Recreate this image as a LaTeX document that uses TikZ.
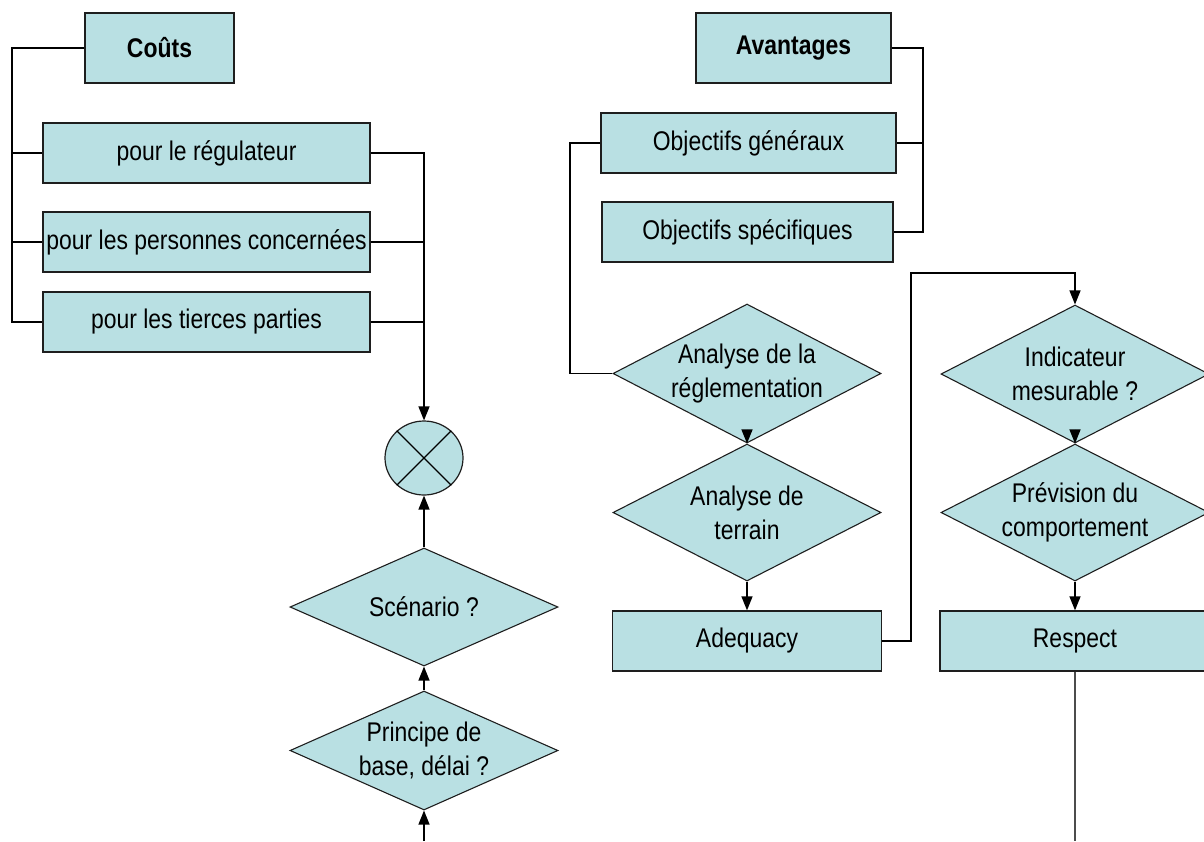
\documentclass[tikz,border=0pt]{standalone}
\usepackage{fontspec}
\setmainfont{Liberation Sans}[FakeStretch=0.85]
\usetikzlibrary{shapes.geometric,arrows.meta}
\definecolor{boxfill}{RGB}{185,224,227}
\definecolor{edge}{RGB}{30,30,30}
\begin{document}
\begin{tikzpicture}[x=1pt,y=-1pt,
  every node/.style={font=\fontsize{27pt}{34pt}\selectfont},
  box/.style={draw=edge,line width=1.3pt,fill=boxfill,rectangle,minimum height=60pt,inner sep=0pt,align=center},
  decision/.style={draw=edge,line width=1.1pt,fill=boxfill,diamond,aspect=1.94,inner sep=-10pt,align=center,minimum width=268pt},
  wire/.style={line width=1.3pt,draw=black},
  arr/.style={wire,-{Triangle[width=11pt,length=14pt]}}]
\useasboundingbox (0,0) rectangle (1204,841);

% ---- costs ----
\node[box,minimum width=149pt,minimum height=70pt] (couts) at (159.5,48) {\textbf{Coûts}};
\node[box,minimum width=327pt] (reg) at (206.5,153) {pour le régulateur};
\node[box,minimum width=327pt] (pers) at (206.5,242) {pour les personnes concernées};
\node[box,minimum width=327pt] (tiers) at (206.5,322) {pour les tierces parties};
\node[ellipse,draw=edge,fill=boxfill,line width=1.2pt,minimum width=78pt,minimum height=74pt,inner sep=0pt] (mix) at (424,458) {};
\draw[line width=1.1pt] (mix.45) -- (mix.225) (mix.135) -- (mix.315);
\node[decision,minimum height=118pt] (scen) at (424,607) {Scénario ?};
\node[decision,minimum height=119pt] (princ) at (424,750.5) {Principe de\\base, délai ?};
\coordinate (feed) at (424,841);
\coordinate (ltrunk) at (12,0);

\draw[wire] (couts.west) -| (ltrunk |- tiers.west) -- (tiers.west);
\draw[wire] (reg.west) -- (ltrunk |- reg.west);
\draw[wire] (pers.west) -- (ltrunk |- pers.west);
\draw[arr] (reg.east) -| (mix.north);
\draw[wire] (pers.east) -- (mix.north |- pers.east);
\draw[wire] (tiers.east) -- (mix.north |- tiers.east);
\draw[arr] (scen.north) -- (mix.south);
\draw[arr] (princ.north) -- (scen.south);
\draw[arr] (feed) -- (princ.south);

% ---- benefits ----
\node[box,minimum width=195pt,minimum height=70pt] (avant) at (793.5,48) {\textbf{Avantages}};
\node[box,minimum width=295pt] (gen) at (748.5,143) {Objectifs généraux};
\node[box,minimum width=291pt] (spec) at (747.5,232) {Objectifs spécifiques};
\coordinate (rtrunk) at (923,0);
\draw[wire] (avant.east) -| (rtrunk |- spec.east) -- (spec.east);
\draw[wire] (gen.east) -- (rtrunk |- gen.east);

\node[decision,minimum height=139pt] (regl) at (747,373.5) {Analyse de la\\réglementation};
\node[decision,minimum height=137pt] (terr) at (747,512.5) {Analyse de\\terrain};
\node[box,minimum width=269pt] (adeq) at (747,641) {Adequacy};
\coordinate (lloop) at (570,0);
\draw[wire] (gen.west) -| (lloop |- regl.west) -- (regl.west);
\draw[arr] ([yshift=14pt]regl.south) -- (terr.north);
\draw[arr] (terr.south) -- (adeq.north);

\node[decision,minimum height=138pt] (indic) at (1075,374) {Indicateur\\mesurable ?};
\node[decision,minimum height=137pt] (prev) at (1075,512.5) {Prévision du\\comportement};
\node[box,minimum width=270pt] (resp) at (1075,641) {Respect};
\coordinate (up) at (911,273);
\draw[arr] (adeq.east) -| (up) -| (indic.north);
\draw[arr] ([yshift=14pt]indic.south) -- (prev.north);
\draw[arr] (prev.south) -- (resp.north);
\coordinate (out) at (1075,841);
\draw[wire,draw=black!70] (resp.south) -- (out);
\end{tikzpicture}
\end{document}
